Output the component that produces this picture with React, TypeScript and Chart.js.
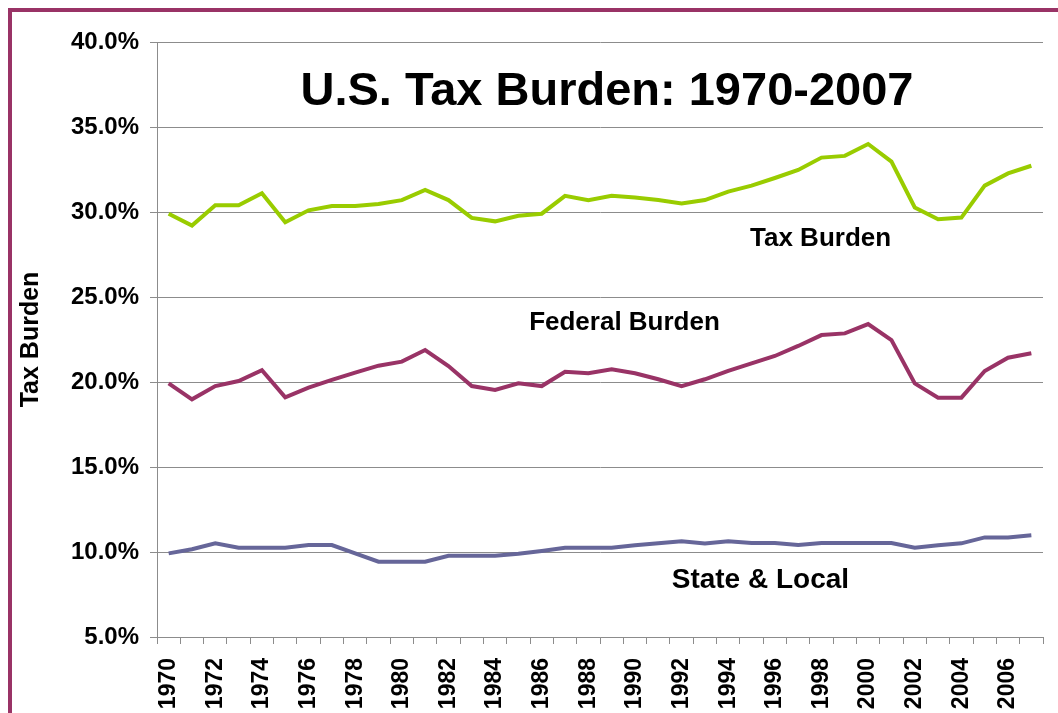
import React, { useEffect, useRef } from "react";
import { Chart, registerables } from "chart.js";

Chart.register(...registerables);

const years: string[] = [];
for (let y = 1970; y <= 2007; y++) years.push(String(y));

const taxBurden = [
  29.9, 29.2, 30.4, 30.4, 31.1, 29.4, 30.1, 30.35, 30.35, 30.47,
  30.7, 31.3, 30.7, 29.65, 29.45, 29.78, 29.9, 30.95, 30.7, 30.95,
  30.85, 30.7, 30.5, 30.7, 31.2, 31.55, 32.0, 32.47, 33.2, 33.3,
  34.0, 32.96, 30.27, 29.57, 29.67, 31.55, 32.27, 32.72,
];
const federalBurden = [
  19.92, 18.98, 19.76, 20.06, 20.7, 19.1, 19.67, 20.12, 20.55, 20.96,
  21.2, 21.88, 20.94, 19.76, 19.53, 19.92, 19.76, 20.6, 20.51, 20.75,
  20.51, 20.16, 19.76, 20.16, 20.65, 21.1, 21.53, 22.12, 22.76, 22.86,
  23.41, 22.47, 19.92, 19.08, 19.08, 20.65, 21.43, 21.69,
];
const stateLocal = [
  9.92, 10.16, 10.51, 10.25, 10.25, 10.25, 10.41, 10.41, 9.92, 9.43,
  9.43, 9.43, 9.78, 9.78, 9.78, 9.9, 10.06, 10.25, 10.25, 10.25,
  10.4, 10.51, 10.63, 10.5, 10.63, 10.53, 10.53, 10.41, 10.53, 10.53,
  10.53, 10.53, 10.25, 10.4, 10.51, 10.86, 10.86, 10.98,
];

const chartTitle = "U.S. Tax Burden: 1970-2007";
const yAxisTitle = "Tax Burden";
const seriesLabels = ["Tax Burden", "Federal Burden", "State & Local"];
const seriesLabelSizes = [26, 26, 28];

// annotation anchors in data space: [categoryIndex, value]
const titleAnchor: [number, number] = [18.8, 36.3];
const labelAnchors: [number, number][] = [
  [27.96, 28.0],
  [19.55, 23.06],
  [25.38, 7.88],
];

const FONT = "'Liberation Sans', Arial, Helvetica, sans-serif";

const annotationPlugin = {
  id: "annotations",
  afterDatasetsDraw(chart: any) {
    const { ctx, scales } = chart;
    const xs = scales.x;
    const ys = scales.y;
    const px = (i: number) => {
      const a = xs.getPixelForValue(Math.floor(i));
      const b = xs.getPixelForValue(Math.floor(i) + 1);
      return a + (b - a) * (i - Math.floor(i));
    };
    ctx.save();
    ctx.fillStyle = "#000";
    ctx.textAlign = "center";
    ctx.textBaseline = "alphabetic";
    ctx.font = `bold 47px ${FONT}`;
    ctx.fillText(chartTitle, px(titleAnchor[0]), ys.getPixelForValue(titleAnchor[1]));
    seriesLabels.forEach((t, k) => {
      const [i, v] = labelAnchors[k];
      ctx.font = `bold ${seriesLabelSizes[k]}px ${FONT}`;
      ctx.fillText(t, px(i), ys.getPixelForValue(v));
    });
    ctx.restore();
  },
};

export default function App() {
  const ref = useRef<HTMLCanvasElement | null>(null);
  useEffect(() => {
    if (!ref.current) return;
    const chart = new Chart(ref.current, {
      type: "line",
      data: {
        labels: years,
        datasets: [
          { label: seriesLabels[0], data: taxBurden, borderColor: "#99CC00", backgroundColor: "#99CC00" },
          { label: seriesLabels[1], data: federalBurden, borderColor: "#993366", backgroundColor: "#993366" },
          { label: seriesLabels[2], data: stateLocal, borderColor: "#666699", backgroundColor: "#666699" },
        ].map((d) => ({ ...d, borderWidth: 4, pointRadius: 0, tension: 0, fill: false })),
      },
      options: {
        responsive: false,
        animation: false,
        layout: { padding: { left: 0, right: 15, top: 42, bottom: 0 } },
        plugins: { legend: { display: false }, tooltip: { enabled: false }, title: { display: false } },
        scales: {
          x: {
            type: "category",
            offset: true,
            grid: { display: true, drawOnChartArea: false, drawTicks: true, tickLength: 7, color: "#8c8c8c", offset: true },
            border: { display: true, color: "#8c8c8c", width: 1 },
            ticks: {
              autoSkip: false,
              minRotation: 90,
              maxRotation: 90,
              padding: 14,
              color: "#000",
              font: { family: FONT, size: 23, weight: "bold" },
              callback: (_v: any, i: number) => (i % 2 === 0 ? years[i] : ""),
            },
            afterFit: (s: any) => {
              s.height = 123;
              s.paddingLeft = 0;
              s.paddingRight = 0;
            },
          },
          y: {
            min: 5,
            max: 40,
            grid: { color: "#8c8c8c", lineWidth: 1, tickLength: 7, drawTicks: true },
            border: { display: true, color: "#8c8c8c", width: 1 },
            ticks: {
              stepSize: 5,
              padding: 11,
              color: "#000",
              font: { family: FONT, size: 24, weight: "bold" },
              callback: (v: any) => Number(v).toFixed(1) + "%",
            },
            title: {
              display: true,
              text: yAxisTitle,
              color: "#000",
              font: { family: FONT, size: 25, weight: "bold" },
              padding: { top: 16, bottom: 0 },
            },
            afterFit: (s: any) => { s.width = 157; },
          },
        },
      },
      plugins: [annotationPlugin],
    });
    return () => chart.destroy();
  }, []);

  return (
    <div style={{ position: "fixed", left: 0, top: 0, width: 1058, height: 713, overflow: "hidden", background: "#fff" }}>
      <div style={{ position: "absolute", left: 8, top: 8, width: 1100, height: 800, border: "4px solid #993366", boxSizing: "border-box" }} />
      <canvas ref={ref} width={1058} height={760} style={{ position: "absolute", left: 0, top: 0, width: 1058, height: 760 }} />
    </div>
  );
}
